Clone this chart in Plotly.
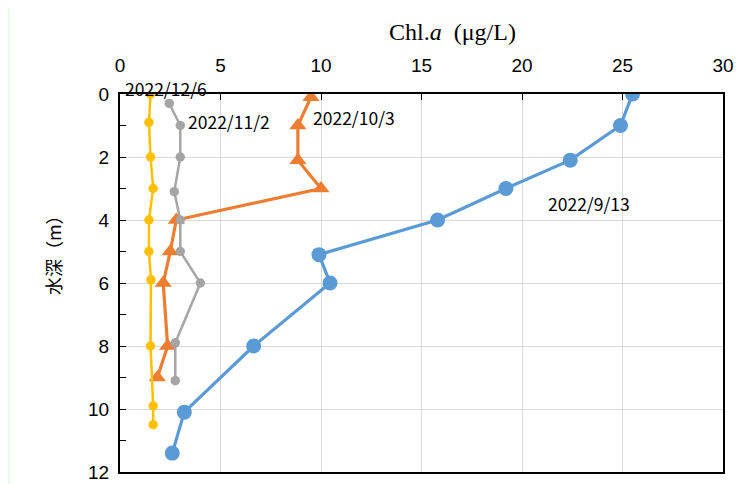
import plotly.graph_objects as go

# Data
depth_0913 = [0, 1.0, 2.1, 3.0, 4.0, 5.1, 6.0, 8.0, 10.1, 11.4]
chl_0913 = [25.5, 24.9, 22.4, 19.2, 15.8, 9.9, 10.45, 6.65, 3.2, 2.6]

depth_1003 = [0.1, 1.0, 2.1, 3.0, 4.0, 5.0, 6.0, 8.0, 9.0]
chl_1003 = [9.5, 8.85, 8.85, 10.0, 2.8, 2.5, 2.15, 2.37, 1.86]

depth_1102 = [0.3, 1.0, 2.0, 3.1, 4.0, 5.0, 6.0, 7.9, 9.1]
chl_1102 = [2.45, 3.0, 3.0, 2.7, 3.0, 3.0, 4.0, 2.75, 2.75]

depth_1206 = [0, 0.9, 2.0, 3.0, 4.0, 5.0, 5.9, 8.0, 9.9, 10.5]
chl_1206 = [1.52, 1.44, 1.52, 1.65, 1.44, 1.44, 1.54, 1.52, 1.65, 1.65]

x_ticks = [0, 5, 10, 15, 20, 25, 30]
y_ticks = [0, 2, 4, 6, 8, 10, 12]

c_blue, c_orange, c_gray, c_yellow = "#5B9BD5", "#ED7D31", "#A5A5A5", "#FFC000"

fig = go.Figure()
fig.add_trace(go.Scatter(x=chl_0913, y=depth_0913, mode="lines+markers", name="2022/9/13",
                         line=dict(color=c_blue, width=3.2), marker=dict(size=15, color=c_blue)))
fig.add_trace(go.Scatter(x=chl_1003, y=depth_1003, mode="lines+markers", name="2022/10/3",
                         line=dict(color=c_orange, width=3.2),
                         marker=dict(size=15, symbol="triangle-up", color=c_orange)))
fig.add_trace(go.Scatter(x=chl_1102, y=depth_1102, mode="lines+markers", name="2022/11/2",
                         line=dict(color=c_gray, width=2.5), marker=dict(size=9.5, color=c_gray)))
fig.add_trace(go.Scatter(x=chl_1206, y=depth_1206, mode="lines+markers", name="2022/12/6",
                         line=dict(color=c_yellow, width=2.5), marker=dict(size=9.5, color=c_yellow)))

lab_font = dict(family="Noto Sans CJK JP", size=17.5, color="#000")
# Series labels placed relative to a data point
fig.add_annotation(x=chl_1206[0], y=depth_1206[0], text="2022/12/6", showarrow=False,
                   xanchor="center", yanchor="middle", xshift=15, yshift=6, font=lab_font)
fig.add_annotation(x=chl_1102[1], y=depth_1102[1], text="2022/11/2", showarrow=False,
                   xanchor="left", yanchor="middle", xshift=6, yshift=4, font=lab_font)
fig.add_annotation(x=chl_1003[1], y=depth_1003[1], text="2022/10/3", showarrow=False,
                   xanchor="left", yanchor="middle", xshift=13, yshift=8, font=lab_font)
fig.add_annotation(x=chl_0913[3], y=depth_0913[3], text="2022/9/13", showarrow=False,
                   xanchor="left", yanchor="middle", xshift=40, yshift=-15, font=lab_font)

# axis titles (offset from the plot centre as in the reference)
fig.add_annotation(xref="paper", yref="paper", x=0.551, y=1.164, showarrow=False,
                   text="Chl.<i>a</i>\u2002(μg/L)", xanchor="center", yanchor="middle",
                   font=dict(family="Liberation Serif", size=24, color="#000"))
fig.add_annotation(xref="paper", yref="paper", x=-0.111, y=0.5847, showarrow=False,
                   text="水深（m）", textangle=-90, xanchor="center", yanchor="middle",
                   font=dict(family="Noto Sans CJK JP", size=18, color="#000"))

# light green strip at the left edge of the page
fig.add_shape(type="rect", xref="paper", yref="paper", x0=-0.1857, x1=-0.1824, y0=-0.1, y1=1.3,
              fillcolor="#E8FDE6", line_width=0, layer="below")

tick_font = dict(family="Liberation Sans", size=19, color="#000")
fig.update_xaxes(side="top", range=[0, 30], tickvals=x_ticks, ticktext=[str(v) for v in x_ticks],
                 showgrid=True, gridcolor="#D9D9D9", gridwidth=1,
                 showline=True, linecolor="#000", linewidth=2, mirror=True,
                 ticks="inside", ticklen=6, tickcolor="#000", tickfont=tick_font,
                 ticklabelstandoff=12, zeroline=False, automargin=False)
fig.update_yaxes(range=[12, 0], tickvals=y_ticks, ticktext=[str(v) for v in y_ticks],
                 showgrid=True, gridcolor="#D9D9D9", gridwidth=1,
                 showline=True, linecolor="#000", linewidth=2, mirror=True,
                 ticks="inside", ticklen=6, tickcolor="#000", tickfont=tick_font,
                 ticklabelstandoff=5,
                 minor=dict(dtick=1, ticks="inside", ticklen=6, tickcolor="#000", showgrid=False),
                 zeroline=False, automargin=False)

# the page adds an 8px body margin, so the figure is 8px smaller and shifted
fig.update_layout(width=741, height=476, margin=dict(l=112, r=26, t=86, b=12),
                  paper_bgcolor="white", plot_bgcolor="white", showlegend=False)

fig.write_html("out.html")
